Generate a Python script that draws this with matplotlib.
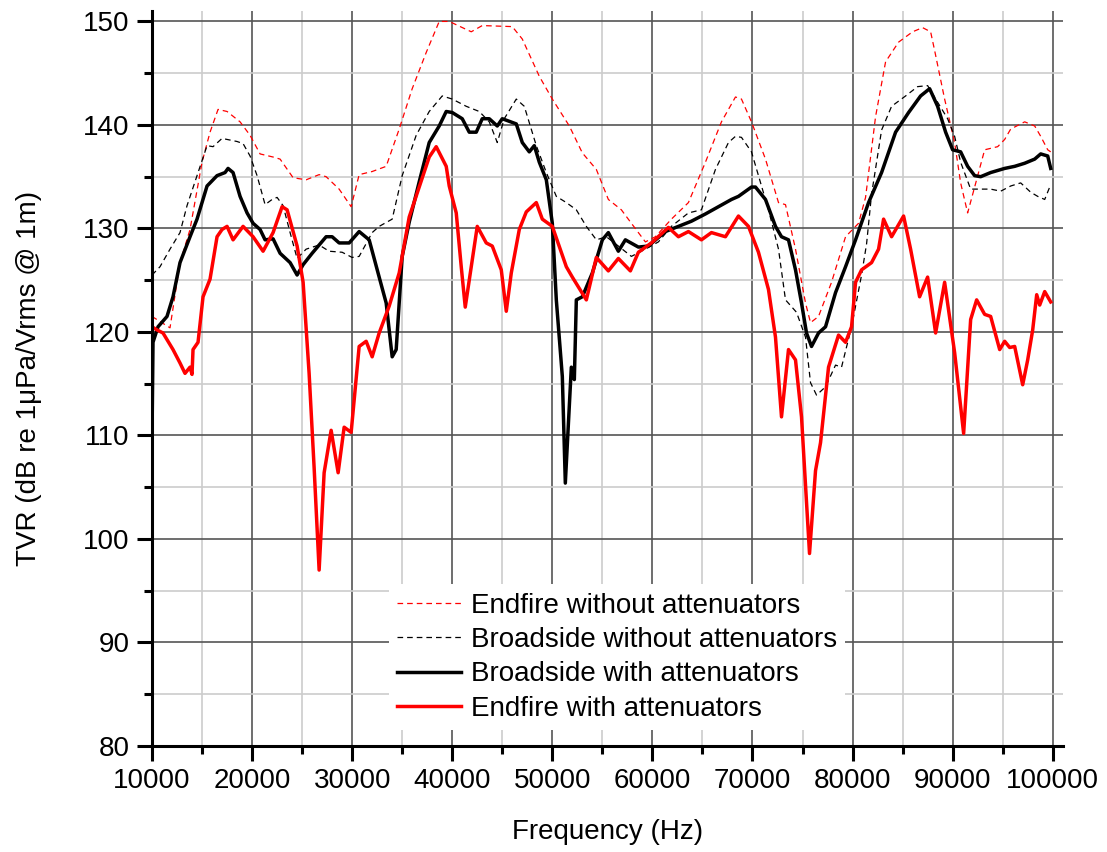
import numpy as np
import matplotlib.pyplot as plt
from matplotlib.ticker import MultipleLocator

plt.rcParams['font.family'] = ['Liberation Sans', 'DejaVu Sans']

# Endfire sin atenuadores (rojo discontinuo)
f_ew = [10000, 11800, 12800, 13800, 15000, 15800, 16600, 17500, 18800, 19800,
        20800, 22100, 22800, 24100, 25400, 26700, 27400, 28700, 29900, 30700,
        32000, 33400, 34700, 36000, 37400, 38700, 39700, 41900, 43000, 46000,
        47000, 48700, 50000, 51700, 53000, 54400, 55600, 56900, 57900, 59300,
        60300, 61900, 63600, 65300, 66900, 68300, 68900, 69900, 71300, 72600,
        73300, 74300, 75300, 75800, 76600, 77900, 79300, 80600, 81300, 82300,
        83300, 84600, 86000, 87000, 87800, 88200, 89200, 90200, 90800, 91500,
        92200, 93200, 94500, 95200, 95800, 97200, 98200, 98800, 99500, 99800]
tvr_ew = [121.5, 120.4, 126.7, 129.9, 136.4, 139.3, 141.5, 141.3, 140.3, 139.0,
          137.2, 136.9, 136.7, 134.9, 134.7, 135.2, 135.0, 133.8, 132.1, 135.2,
          135.5, 136.0, 139.6, 143.5, 147.0, 150.0, 150.0, 149.0, 149.6, 149.5,
          148.3, 144.7, 142.5, 139.9, 137.3, 135.7, 132.8, 131.8, 130.5, 128.7,
          129.2, 130.9, 132.5, 136.4, 140.3, 142.7, 142.5, 140.3, 136.7, 132.5,
          132.3, 128.0, 122.8, 120.9, 121.5, 124.8, 129.2, 130.5, 133.0, 140.8,
          146.1, 148.0, 149.0, 149.4, 149.0, 147.2, 142.5, 138.3, 134.4, 131.5,
          134.0, 137.6, 137.9, 138.6, 139.6, 140.3, 139.9, 138.9, 137.6, 137.4]

# Broadside sin atenuadores (negro discontinuo)
f_bw = [10000, 10800, 11800, 12800, 13500, 14500, 15500, 16100, 17000, 18500,
        19100, 19800, 20500, 21300, 22000, 22500, 23100, 23800, 24500, 25400,
        26700, 27700, 29000, 30000, 30700, 32000, 32700, 34000, 35000, 36400,
        37700, 39000, 40000, 41400, 42700, 43700, 44500, 45200, 46400, 47200,
        48400, 49400, 50400, 51400, 52400, 53400, 54400, 55400, 56600, 57900,
        59300, 60600, 61900, 63600, 64900, 66300, 67600, 68300, 68900, 69900,
        70600, 71600, 72600, 73300, 74400, 75300, 75800, 76400, 77300, 78300,
        78900, 79900, 80900, 81400, 81900, 82900, 83900, 85300, 86500, 87500,
        88500, 89500, 90200, 90800, 91800, 92500, 93800, 94800, 95800, 96800,
        97800, 98500, 99200, 99700]
tvr_bw = [125.5, 126.3, 128.0, 129.6, 132.2, 135.1, 138.0, 137.9, 138.7, 138.4,
          138.2, 137.0, 135.1, 132.3, 132.8, 133.0, 132.2, 129.6, 127.1, 128.0,
          128.4, 127.8, 127.7, 127.2, 127.3, 129.6, 130.2, 130.9, 135.1, 139.0,
          141.3, 142.8, 142.5, 141.8, 141.3, 140.3, 138.3, 140.6, 142.5, 141.8,
          138.0, 135.4, 133.1, 132.5, 131.8, 130.2, 128.9, 129.2, 128.3, 127.3,
          128.0, 128.7, 130.2, 131.5, 131.8, 135.7, 138.3, 138.9, 138.8, 137.4,
          135.1, 131.8, 128.0, 123.1, 121.9, 119.5, 115.1, 113.9, 114.7, 116.8,
          116.6, 120.5, 125.5, 128.5, 133.3, 139.5, 141.8, 142.8, 143.7, 143.8,
          142.2, 140.6, 138.9, 136.4, 133.8, 133.8, 133.8, 133.6, 134.1, 134.4,
          133.5, 133.1, 132.8, 134.0]

# Broadside con atenuadores (negro continuo)
f_ba = [10000, 10100, 10600, 11500, 12100, 12800, 13800, 14500, 15500, 16500,
        17300, 17600, 18100, 18800, 19500, 20100, 20800, 21300, 22100, 22800,
        23800, 24500, 25100, 26000, 27400, 28000, 28700, 29700, 30700, 31700,
        32700, 33400, 34000, 34400, 35000, 35700, 36700, 37700, 38700, 39400,
        40000, 41000, 41700, 42400, 43000, 43700, 44500, 45000, 46400, 47000,
        47700, 48200, 48700, 49400, 50000, 50400, 51000, 51300, 51900, 52200,
        52400, 53000, 54000, 55000, 55600, 56600, 57300, 58600, 59600, 61300,
        62600, 63900, 65300, 66600, 67900, 68600, 69900, 70300, 71300, 72300,
        72900, 73600, 74300, 74900, 75400, 75900, 76600, 77300, 78300, 79300,
        80300, 81600, 82900, 84300, 85600, 86800, 87700, 88500, 89300, 90000,
        90800, 91500, 92200, 92800, 93800, 95200, 96200, 97200, 98200, 98800,
        99500, 99800]
tvr_ba = [109.6, 119.0, 120.5, 121.5, 123.4, 126.7, 129.2, 130.9, 134.1, 135.1,
          135.4, 135.8, 135.4, 133.1, 131.5, 130.5, 129.9, 128.9, 129.0, 127.6,
          126.7, 125.5, 126.5, 127.6, 129.2, 129.2, 128.6, 128.6, 129.7, 128.9,
          125.3, 122.8, 117.6, 118.3, 127.3, 130.6, 134.5, 138.3, 139.9, 141.3,
          141.2, 140.6, 139.3, 139.3, 140.6, 140.6, 139.9, 140.6, 140.1, 138.3,
          137.4, 138.0, 136.4, 134.7, 130.5, 123.1, 115.7, 105.4, 116.6, 115.4,
          123.1, 123.4, 125.7, 128.9, 129.6, 127.8, 128.9, 128.2, 128.3, 129.7,
          130.2, 130.7, 131.4, 132.1, 132.8, 133.1, 134.0, 134.0, 132.8, 130.2,
          129.2, 128.9, 126.0, 122.8, 119.9, 118.6, 119.9, 120.5, 123.8, 126.3,
          128.9, 132.5, 135.4, 139.3, 141.2, 142.8, 143.5, 141.8, 139.3, 137.6,
          137.4, 136.0, 135.1, 135.0, 135.4, 135.8, 136.0, 136.3, 136.7, 137.2,
          137.0, 135.8]

# Endfire con atenuadores (rojo continuo)
f_ea = [10000, 10500, 11100, 12100, 12800, 13300, 13800, 14000, 14100, 14600,
        15100, 15800, 16500, 17000, 17500, 18100, 19100, 20100, 21100, 22100,
        23000, 23500, 24500, 25100, 25700, 26200, 26700, 27200, 27900, 28600,
        29200, 29900, 30700, 31400, 32000, 32700, 33700, 34700, 35700, 36700,
        37700, 38400, 39400, 39700, 40400, 40900, 41300, 41900, 42500, 43400,
        44000, 44900, 45400, 45900, 46700, 47400, 48400, 49000, 50000, 51400,
        52000, 53400, 54400, 55600, 56600, 57800, 58600, 59900, 61600, 62600,
        63600, 64900, 65900, 67300, 68600, 69600, 70600, 71600, 72300, 72900,
        73600, 74300, 74900, 75700, 76300, 76800, 77600, 78600, 79300, 79900,
        80300, 80900, 81900, 82600, 83100, 83900, 85100, 85800, 86700, 87500,
        88300, 89200, 90200, 91100, 91800, 92400, 93200, 93800, 94700, 95200,
        95700, 96200, 97000, 97500, 98000, 98400, 98700, 99200, 99800]
tvr_ea = [120.5, 120.2, 119.9, 118.3, 117.0, 116.0, 116.6, 115.9, 118.3, 119.0,
          123.4, 125.1, 129.2, 129.9, 130.2, 128.9, 130.2, 129.2, 127.8, 129.6,
          132.1, 131.8, 128.3, 124.8, 116.0, 106.9, 97.0, 106.4, 110.5, 106.4,
          110.8, 110.3, 118.6, 119.1, 117.6, 119.9, 122.5, 125.7, 131.1, 134.0,
          136.9, 137.9, 136.0, 134.1, 131.5, 126.3, 122.4, 126.3, 130.2, 128.6,
          128.3, 126.0, 122.0, 125.7, 129.9, 131.6, 132.5, 130.9, 130.2, 126.3,
          125.3, 123.1, 127.2, 125.9, 127.1, 125.9, 127.7, 128.6, 130.1, 129.2,
          129.7, 128.9, 129.6, 129.2, 131.2, 130.2, 127.7, 124.1, 119.5, 111.8,
          118.3, 117.3, 111.8, 98.6, 106.6, 109.3, 116.6, 119.7, 119.0, 120.5,
          124.8, 126.0, 126.7, 128.0, 130.9, 129.2, 131.2, 128.0, 123.4, 125.3,
          119.9, 124.8, 118.0, 110.2, 121.2, 123.1, 121.7, 121.5, 118.3, 119.1,
          118.5, 118.6, 114.9, 117.3, 120.2, 123.6, 122.6, 123.9, 122.9]

fig = plt.figure(figsize=(11.07, 8.52), dpi=100)
ax = fig.add_axes([0.1373, 0.1244, 0.8227, 0.8626])

ax.plot(f_ew, tvr_ew, color='#ff0000', lw=0.9, dashes=(4.5, 3.2),
        label='Endfire without attenuators')
ax.plot(f_bw, tvr_bw, color='black', lw=0.9, dashes=(4.5, 3.2),
        label='Broadside without attenuators')
ax.plot(f_ba, tvr_ba, color='black', lw=2.5,
        label='Broadside with attenuators')
ax.plot(f_ea, tvr_ea, color='#ff0000', lw=2.5,
        label='Endfire with attenuators')

ax.set_xlim(10000, 101000)
ax.set_ylim(80, 151)
ax.xaxis.set_minor_locator(MultipleLocator(5000))
ax.yaxis.set_minor_locator(MultipleLocator(5))
ax.set_xticks(np.arange(10000, 100001, 10000))
ax.set_yticks(np.arange(80, 151, 10))

ax.grid(which='major', color='#555555', lw=1.2)
ax.grid(which='minor', color='#cccccc', lw=1.2)
ax.set_axisbelow(True)

for s in ['top', 'right']:
    ax.spines[s].set_visible(False)
for s in ['left', 'bottom']:
    ax.spines[s].set_linewidth(2.2)

ax.tick_params(which='major', direction='out', length=11, width=2.2,
               labelsize=20, pad=5)
ax.tick_params(which='minor', direction='out', length=5.5, width=2.2)

ax.set_xlabel('Frequency (Hz)', fontsize=20, labelpad=18)
ax.set_ylabel('TVR (dB re 1\u03bcPa/Vrms @ 1m)', fontsize=20, labelpad=30)

leg = ax.legend(loc='upper left', bbox_to_anchor=(0.2445, 0.239), fontsize=20,
                frameon=True, fancybox=False, framealpha=1, edgecolor='none',
                facecolor='white', handlelength=2.3, handletextpad=0.36,
                labelspacing=0.3, borderpad=0.3)

fig.savefig('out.png', dpi=100)
